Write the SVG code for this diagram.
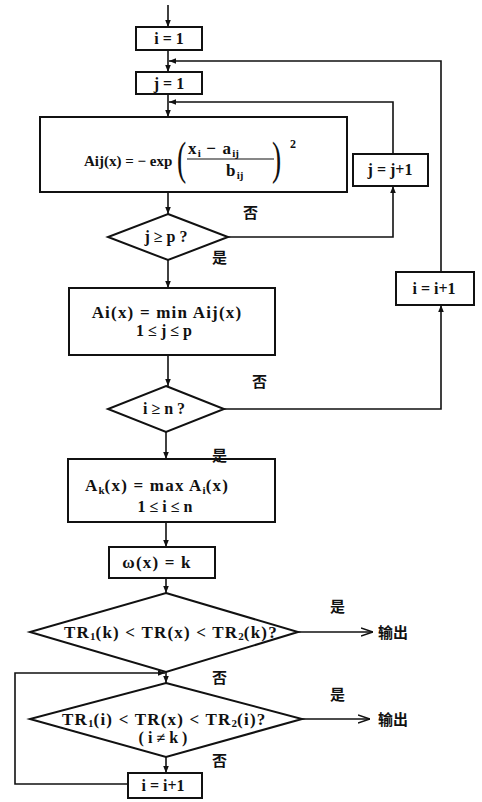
<svg xmlns="http://www.w3.org/2000/svg" width="482" height="802" viewBox="0 0 482 802">
<style>
.box{fill:none;stroke:#111;stroke-width:2}
.ln{fill:none;stroke:#111;stroke-width:1.6}
.t{font-family:"Liberation Serif","Times New Roman",serif;font-size:16px;font-weight:bold;fill:#111}
.f{font-size:17px;letter-spacing:1.2px}
.s{font-size:11px;letter-spacing:0}
.p{font-family:"Liberation Serif","Times New Roman",serif;font-size:46px;font-weight:normal;fill:#111}
.c{font-family:"Noto Sans CJK SC","Noto Sans",sans-serif;font-size:15px;font-weight:bold;fill:#111}
.m{text-anchor:middle}
</style>
<defs>
<marker id="ah" viewBox="0 0 10 10" refX="10" refY="5" markerWidth="7" markerHeight="7" orient="auto" markerUnits="userSpaceOnUse">
<path d="M0,1 L10,5 L0,9 z" fill="#111"/>
</marker>
<marker id="oa" viewBox="0 0 12 10" refX="12" refY="5" markerWidth="12" markerHeight="10" orient="auto" markerUnits="userSpaceOnUse">
<path d="M0,1 L12,5 L0,9" fill="none" stroke="#111" stroke-width="1.4"/>
</marker>
</defs>

<g id="connectors">
<line class="ln" x1="168" y1="5" x2="168" y2="27" marker-end="url(#ah)"/>
<line class="ln" x1="168" y1="50" x2="168" y2="72" marker-end="url(#ah)"/>
<line class="ln" x1="168" y1="94" x2="168" y2="117" marker-end="url(#ah)"/>
<line class="ln" x1="168" y1="192" x2="168" y2="214" marker-end="url(#ah)"/>
<polyline class="ln" points="228,237 393,237 393,186" marker-end="url(#ah)"/>
<polyline class="ln" points="393,154 393,102 169,102" marker-end="url(#ah)"/>
<line class="ln" x1="168" y1="260" x2="168" y2="288" marker-end="url(#ah)"/>
<line class="ln" x1="168" y1="355" x2="168" y2="386" marker-end="url(#ah)"/>
<polyline class="ln" points="224,409 441,409 441,305" marker-end="url(#ah)"/>
<polyline class="ln" points="441,272 441,61 169,61" marker-end="url(#ah)"/>
<line class="ln" x1="166" y1="432" x2="166" y2="459" marker-end="url(#ah)"/>
<line class="ln" x1="166" y1="522" x2="166" y2="547" marker-end="url(#ah)"/>
<line class="ln" x1="166" y1="578" x2="166" y2="593" marker-end="url(#ah)"/>
<line class="ln" x1="298" y1="632" x2="373" y2="632" marker-end="url(#oa)"/>
<line class="ln" x1="166" y1="672" x2="166" y2="683" marker-end="url(#ah)"/>
<line class="ln" x1="302" y1="719" x2="370" y2="719" marker-end="url(#oa)"/>
<line class="ln" x1="166" y1="757" x2="166" y2="773" marker-end="url(#ah)"/>
<polyline class="ln" points="128,784 15,784 15,673 165,673" marker-end="url(#ah)"/>
</g>

<g id="n_i1">
<rect class="box" x="136" y="27" width="66" height="23"/>
<text class="t m" x="169" y="44">i = 1</text>
</g>
<g id="n_j1">
<rect class="box" x="136" y="72" width="66" height="22"/>
<text class="t m" x="169" y="89">j = 1</text>
</g>
<g id="n_aij">
<rect class="box" x="40" y="117" width="307" height="75"/>
<text class="t" x="84" y="166" style="font-size:15px">Aij(x) = − exp</text>
<text class="p" transform="translate(177,174) scale(0.6,1)">(</text>
<text class="p" transform="translate(272,174) scale(0.6,1)">)</text>
<text class="t f" x="188" y="154">x<tspan class="s" dy="3">i</tspan><tspan dy="-3"> − a</tspan><tspan class="s" dy="3">ij</tspan></text>
<line x1="187" y1="159" x2="274" y2="159" stroke="#111" stroke-width="1.2"/>
<text class="t f" x="226" y="176">b<tspan class="s" dy="3">ij</tspan></text>
<text class="t" x="290" y="148" style="font-size:12px">2</text>
</g>
<g id="n_jinc">
<rect class="box" x="353" y="154" width="75" height="32"/>
<text class="t m" x="390" y="175">j = j+1</text>
</g>
<g id="n_jp">
<polygon class="box" points="168,214 228,237 168,260 108,237"/>
<text class="t m" x="166" y="242">j ≥ p ?</text>
</g>
<text class="c" x="243" y="218">否</text>
<text class="c" x="212" y="263">是</text>
<g id="n_ai">
<rect class="box" x="69" y="288" width="206" height="67"/>
<text class="t f m" x="167" y="318">Ai(x) = min Aij(x)</text>
<text class="t m" x="164" y="336">1 ≤ j ≤ p</text>
</g>
<text class="c" x="252" y="387">否</text>
<g id="n_iinc">
<rect class="box" x="396" y="272" width="78" height="33"/>
<text class="t m" x="434" y="294">i = i+1</text>
</g>
<g id="n_in">
<polygon class="box" points="166,386 224,409 166,432 108,409"/>
<text class="t m" x="164" y="414">i ≥ n ?</text>
</g>
<text class="c" x="212" y="461">是</text>
<g id="n_ak">
<rect class="box" x="68" y="459" width="207" height="63"/>
<text class="t f" x="85" y="491">A<tspan class="s" dy="3">k</tspan><tspan dy="-3">(x) = max  A</tspan><tspan class="s" dy="3">i</tspan><tspan dy="-3">(x)</tspan></text>
<text class="t m" x="165" y="512">1 ≤ i ≤ n</text>
</g>
<g id="n_w">
<rect class="box" x="109" y="547" width="106" height="31"/>
<text class="t f m" x="157" y="568">ω(x) = k</text>
</g>
<g id="n_tr1">
<polygon class="box" points="166,593 298,632 166,672 30,632"/>
<text class="t f" x="64" y="638">TR<tspan class="s" dy="2">1</tspan><tspan dy="-2">(k) &lt; TR(x) &lt; TR</tspan><tspan class="s" dy="2">2</tspan><tspan dy="-2">(k)?</tspan></text>
</g>
<text class="c" x="330" y="612">是</text>
<text class="c" x="378" y="638">输出</text>
<text class="c" x="212" y="683">否</text>
<g id="n_tr2">
<polygon class="box" points="166,683 302,719 166,757 30,719"/>
<text class="t f" x="62" y="725">TR<tspan class="s" dy="2">1</tspan><tspan dy="-2">(i) &lt; TR(x) &lt; TR</tspan><tspan class="s" dy="2">2</tspan><tspan dy="-2">(i)?</tspan></text>
<text class="t m" x="163" y="743">( i ≠ k )</text>
</g>
<text class="c" x="330" y="700">是</text>
<text class="c" x="378" y="725">输出</text>
<text class="c" x="212" y="766">否</text>
<g id="n_iinc2">
<rect class="box" x="128" y="773" width="74" height="25"/>
<text class="t m" x="163" y="791">i = i+1</text>
</g>
</svg>
